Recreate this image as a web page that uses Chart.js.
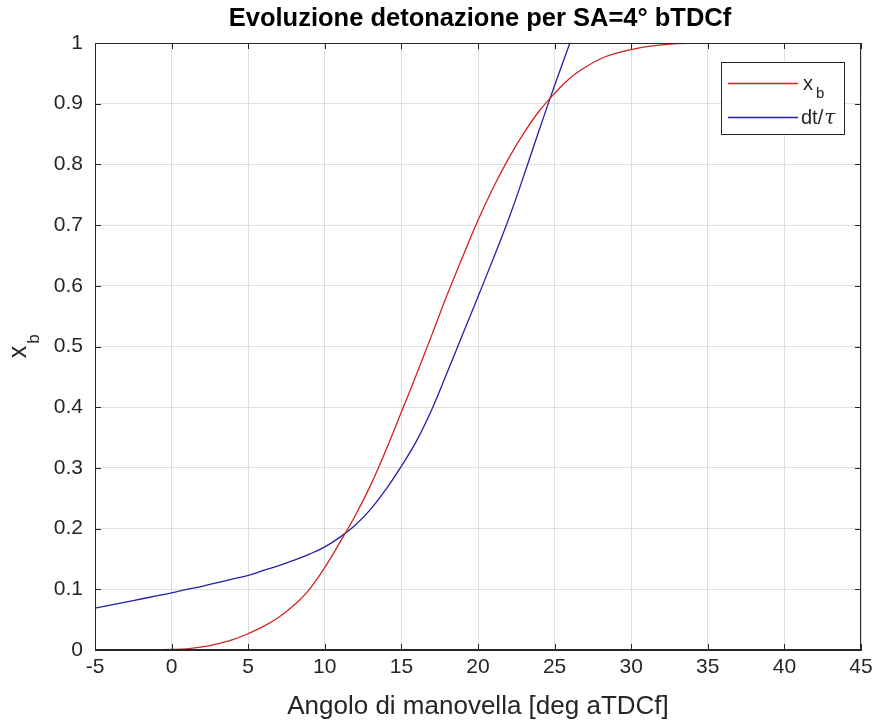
<!DOCTYPE html>
<html>
<head>
<meta charset="utf-8">
<script src="https://cdn.jsdelivr.net/npm/chart.js@4.4.0/dist/chart.umd.min.js"></script>
<style>
  html, body { margin: 0; padding: 0; background: #fff; }
  #wrap { width: 878px; height: 724px; }
</style>
</head>
<body>
<div id="wrap"><canvas id="chart" width="878" height="724"></canvas></div>
<script>
// ---- data ----
const xTicks = [-5, 0, 5, 10, 15, 20, 25, 30, 35, 40, 45];
const yTicks = [0, 0.1, 0.2, 0.3, 0.4, 0.5, 0.6, 0.7, 0.8, 0.9, 1];

// x_b (mass fraction burned), combustion starts at -4 deg
const xbAngle = [-4, -2, 0, 1, 2, 3, 4, 5, 6, 7, 8, 9, 10, 11, 12, 13, 14, 15, 16, 17, 18, 19, 20,
                 21, 22, 23, 24, 25, 26, 27, 28, 29, 30, 31, 32, 33, 34, 45];
const xbValue = [0, 0, 0.001, 0.002, 0.005, 0.01, 0.017, 0.027, 0.039, 0.054, 0.074, 0.1, 0.136, 0.178, 0.222, 0.272, 0.33, 0.392, 0.455, 0.52, 0.586, 0.648, 0.708,
                 0.762, 0.81, 0.852, 0.888, 0.917, 0.942, 0.96, 0.974, 0.983, 0.989, 0.994, 0.997, 0.999, 1, 1];

// dt/tau (knock integral)
const dtAngle = [-5, -4, -3, -2, -1, 0, 1, 2, 3, 4, 5, 6, 7, 8, 9, 10, 11, 12, 13, 14, 15, 16, 17, 18, 19, 20, 21, 22, 23, 24, 25, 26];
const dtValue = [0.069, 0.074, 0.079, 0.084, 0.089, 0.094, 0.1, 0.105, 0.111, 0.117, 0.123, 0.131, 0.139, 0.148, 0.158, 0.17, 0.186, 0.206, 0.232, 0.265, 0.303, 0.345, 0.397, 0.458, 0.52, 0.582, 0.645, 0.71, 0.782, 0.857, 0.93, 1.0];

const AX = '#262626';
const FONT = "'Liberation Sans', Arial, Helvetica, sans-serif";

function pts(xs, ys) { return xs.map((x, i) => ({ x, y: ys[i] })); }

// Title, y label, inward ticks, box and legend (MATLAB look)
const matlabDecor = {
    id: 'matlabDecor',
    afterDraw(chart) {
        const { ctx, chartArea: a, scales: { x, y } } = chart;
        ctx.save();
        // box
        ctx.strokeStyle = AX;
        ctx.lineWidth = 1;
        ctx.strokeRect(Math.round(a.left) + 0.5, Math.round(a.top) + 0.5, Math.round(a.right - a.left) - 1, Math.round(a.bottom - a.top) - 1);
        // inward ticks
        ctx.beginPath();
        xTicks.forEach(v => {
            const px = Math.round(x.getPixelForValue(v)) + 0.5;
            ctx.moveTo(px, a.bottom); ctx.lineTo(px, a.bottom - 6);
            ctx.moveTo(px, a.top); ctx.lineTo(px, a.top + 6);
        });
        yTicks.forEach(v => {
            const py = Math.round(y.getPixelForValue(v)) + 0.5;
            ctx.moveTo(a.left, py); ctx.lineTo(a.left + 6, py);
            ctx.moveTo(a.right, py); ctx.lineTo(a.right - 6, py);
        });
        ctx.stroke();

        // title
        ctx.fillStyle = '#000';
        ctx.font = 'bold 25.5px ' + FONT;
        ctx.textAlign = 'center';
        ctx.textBaseline = 'middle';
        ctx.fillText('Evoluzione detonazione per SA=4° bTDCf', (a.left + a.right) / 2 + 2, 19);

        // y label: x_b rotated
        ctx.save();
        ctx.translate(20, 347);
        ctx.rotate(-Math.PI / 2);
        ctx.fillStyle = AX;
        ctx.textAlign = 'left';
        ctx.textBaseline = 'alphabetic';
        ctx.font = '25px ' + FONT;
        const wx = ctx.measureText('x').width;
        ctx.fillText('x', -wx / 2 - 5, 6);
        ctx.font = '17px ' + FONT;
        ctx.fillText('b', wx / 2 - 3, 19);
        ctx.restore();

        // legend
        const lx = 721, ly = 62, lw = 123, lh = 72;
        ctx.fillStyle = '#fff';
        ctx.fillRect(lx, ly, lw, lh);
        ctx.strokeStyle = AX;
        ctx.strokeRect(lx + 0.5, ly + 0.5, lw, lh);
        const ds = chart.data.datasets;
        const rows = [ly + 21, ly + 55];
        rows.forEach((ry, i) => {
            ctx.strokeStyle = ds[i].borderColor;
            ctx.lineWidth = 1.3;
            ctx.beginPath();
            ctx.moveTo(lx + 7, ry + 0.5); ctx.lineTo(lx + 77, ry + 0.5);
            ctx.stroke();
        });
        ctx.fillStyle = AX;
        ctx.textAlign = 'left';
        ctx.textBaseline = 'alphabetic';
        ctx.font = '20px ' + FONT;
        ctx.fillText('x', lx + 82, rows[0] + 7);
        ctx.font = '15px ' + FONT;
        ctx.fillText('b', lx + 95, rows[0] + 15);
        ctx.font = '20px ' + FONT;
        ctx.fillText('dt/', lx + 80, rows[1] + 7);
        const w = ctx.measureText('dt/').width;
        ctx.font = 'italic 20px "DejaVu Serif", serif';
        ctx.fillText('\u03C4', lx + 80 + w + 1, rows[1] + 7);
        ctx.restore();
    }
};

new Chart(document.getElementById('chart'), {
    type: 'line',
    data: {
        datasets: [
            { label: 'x_b', data: pts(xbAngle, xbValue), borderColor: '#d42222', borderWidth: 1.3, pointRadius: 0, tension: 0.4, fill: false },
            { label: 'dt/tau', data: pts(dtAngle, dtValue), borderColor: '#2222a6', borderWidth: 1.3, pointRadius: 0, tension: 0.4, fill: false }
        ]
    },
    options: {
        responsive: false,
        animation: false,
        devicePixelRatio: 1,
        layout: { padding: { left: 0, top: 43, right: 17, bottom: 0 } },
        plugins: { legend: { display: false }, tooltip: { enabled: false }, title: { display: false } },
        scales: {
            x: {
                type: 'linear', min: -5, max: 45,
                afterBuildTicks: s => { s.ticks = xTicks.map(v => ({ value: v })); },
                afterFit: s => { s.height = 74; },
                ticks: { color: AX, font: { family: FONT, size: 21 }, padding: 5, maxRotation: 0 },
                grid: { color: 'rgb(223,223,223)', drawTicks: false },
                border: { display: true, color: AX },
                title: { display: true, text: 'Angolo di manovella [deg aTDCf]', color: AX, font: { family: FONT, size: 26, lineHeight: 1 }, padding: { top: 0, bottom: 4 } }
            },
            y: {
                type: 'linear', min: 0, max: 1,
                afterBuildTicks: s => { s.ticks = yTicks.map(v => ({ value: v })); },
                afterFit: s => { s.width = 95; },
                ticks: { color: AX, font: { family: FONT, size: 21 }, padding: 12, callback: v => String(Math.round(v * 10) / 10) },
                grid: { color: 'rgb(223,223,223)', drawTicks: false },
                border: { display: true, color: AX }
            }
        }
    },
    plugins: [matlabDecor]
});
</script>
</body>
</html>
